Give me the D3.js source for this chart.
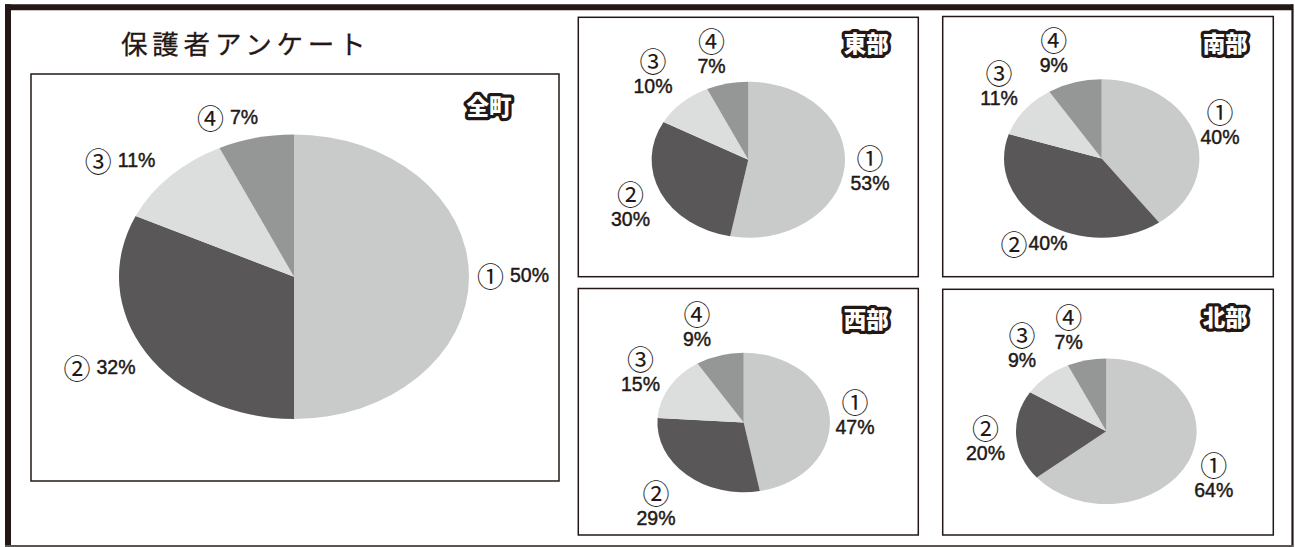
<!DOCTYPE html>
<html lang="ja">
<head>
<meta charset="utf-8">
<script src="https://cdn.jsdelivr.net/npm/d3@7"></script>
<style>
  html, body { margin: 0; padding: 0; background: #ffffff; }
  svg { display: block; }
</style>
</head>
<body>
<svg id="chart" width="1295" height="547"></svg>
<script>
// ---- data ----
const titleText = "保護者アンケート";
const categories = ["①", "②", "③", "④"];
const regionNames = ["全町", "東部", "南部", "西部", "北部"];
const valuesZencho = [50, 32, 11, 7];
const valuesTobu   = [53, 30, 10, 7];
const valuesNanbu  = [40, 40, 11, 9];
const valuesSeibu  = [47, 29, 15, 9];
const valuesHokubu = [64, 20, 9, 7];

// ---- styling ----
const ink = "#231815";
const sliceColors = ["#c9caca", "#595757", "#dcdddd", "#959796"];
const numFont = "'Liberation Sans', Arial, sans-serif";
const jpFont = "'Noto Sans CJK JP', 'Noto Sans', sans-serif";
const circleSize = 27;   // circled numbers render small in this face, so upsize them
const pctSize = 19.5;

// ---- layout: panel frames, pie geometry, label placement ----
// label: "inline" puts the circled number and percent on one line,
// "stack" puts them on two lines; nudge fine-tunes each label block.
const panels = [
  { name: regionNames[0], values: valuesZencho,
    box: [31, 74, 528, 407], pie: [294, 276.7, 175, 142.3], tag: [70, 31],
    label: ["inline", "inline", "inline", "inline"],
    nudge: [[0, -1.7], [-9.6, 5.7], [-19, -5.5], [-18.7, -5.7]] },
  { name: regionNames[1], values: valuesTobu,
    box: [578.3, 17.3, 340, 259.4], pie: [748.3, 159.7, 96.7, 78], tag: [52, 25],
    label: ["stack", "stack", "stack", "stack"],
    nudge: [[1.5, 0], [-8.6, 0.7], [-12.7, -9.7], [-10.5, -2.8]] },
  { name: regionNames[2], values: valuesNanbu,
    box: [942.7, 16.5, 330.6, 260.2], pie: [1101.7, 158.5, 97.7, 79.2], tag: [48, 25.5],
    label: ["stack", "inlineTight", "stack", "stack"],
    nudge: [[2.6, -1.2], [13.2, 8.3], [-6.5, -7.6], [-14, -3.4]] },
  { name: regionNames[3], values: valuesSeibu,
    box: [578.3, 288.5, 340, 246.5], pie: [743.7, 422.5, 86.3, 69.8], tag: [52, 29.5],
    label: ["stack", "stack", "stack", "stack"],
    nudge: [[1.5, 0], [-14.8, 8], [-8.3, -1.9], [-15.9, -2.3]] },
  { name: regionNames[4], values: valuesHokubu,
    box: [942.7, 289.3, 330.6, 245.7], pie: [1106.3, 431.2, 90.3, 72.8], tag: [48, 26.7],
    label: ["stack", "stack", "stack", "stack"],
    nudge: [[4, 1.7], [-6.7, 1.6], [-8.7, -8.6], [-12.7, -3.6]] }
];

const svg = d3.select("#chart");

// outer frame: heavy top/left rules, light right/bottom rules
const frame = svg.append("g");
frame.append("line").attr("x1", 5).attr("x2", 1293).attr("y1", 7.2).attr("y2", 7.2)
  .attr("stroke", ink).attr("stroke-width", 6);
frame.append("line").attr("x1", 8).attr("x2", 8).attr("y1", 4.2).attr("y2", 547)
  .attr("stroke", ink).attr("stroke-width", 6);
frame.append("line").attr("x1", 1292.5).attr("x2", 1292.5).attr("y1", 4.2).attr("y2", 547)
  .attr("stroke", ink).attr("stroke-width", 2.2);
frame.append("line").attr("x1", 5).attr("x2", 1293).attr("y1", 546).attr("y2", 546)
  .attr("stroke", "#5a5656").attr("stroke-width", 2);

// title
svg.append("text")
  .attr("x", 121).attr("y", 42)
  .attr("dominant-baseline", "central")
  .attr("font-family", jpFont)
  .attr("font-size", 26.5)
  .attr("letter-spacing", "4.8px")
  .attr("fill", ink)
  .attr("stroke", ink).attr("stroke-width", 0.3)
  .text(titleText);

const pie = d3.pie().sort(null).value(d => d);

function pctSpan(sel) {
  return sel.attr("font-family", numFont).attr("font-size", pctSize)
    .attr("stroke", ink).attr("stroke-width", 0.45);
}

panels.forEach(p => {
  const [bx, by, bw, bh] = p.box;
  const [cx, cy, rx, ry] = p.pie;
  const g = svg.append("g");

  g.append("rect")
    .attr("x", bx).attr("y", by).attr("width", bw).attr("height", bh)
    .attr("fill", "#ffffff").attr("stroke", ink).attr("stroke-width", 1.5);

  // elliptical pie: circular arcs squashed vertically
  const arc = d3.arc().innerRadius(0).outerRadius(rx);
  const arcs = pie(p.values);
  g.append("g")
    .attr("transform", `translate(${cx},${cy}) scale(1,${ry / rx})`)
    .selectAll("path")
    .data(arcs)
    .join("path")
    .attr("d", arc)
    .attr("fill", (d, i) => sliceColors[i]);

  // slice labels, placed just outside the rim at each slice's mid angle
  arcs.forEach((d, i) => {
    const mid = (d.startAngle + d.endAngle) / 2;
    const s = Math.sin(mid), c = Math.cos(mid);
    const mode = p.label[i];
    const [nx, ny] = p.nudge[i];
    const pct = d.data + "%";
    if (mode === "stack") {
      const w = 40, h = 50, pad = 4;
      const lx = cx + (rx + pad + w / 2) * s + nx;
      const ly = cy - (ry + pad + h / 2) * c + ny;
      const t = g.append("text")
        .attr("text-anchor", "middle").attr("dominant-baseline", "central")
        .attr("fill", ink);
      t.append("tspan")
        .attr("x", lx).attr("y", ly - 12.5)
        .attr("font-family", jpFont).attr("font-size", circleSize)
        .text(categories[i]);
      t.append("tspan")
        .attr("x", lx).attr("y", ly + 13.5)
        .call(pctSpan)
        .text(pct);
    } else {
      const tight = mode === "inlineTight";
      const w = tight ? 72 : 80, h = 22, pad = 4;
      const lx = cx + (rx + pad + w / 2) * s + nx;
      const ly = cy - (ry + pad + h / 2) * c + ny;
      const t = g.append("text")
        .attr("x", lx).attr("y", ly)
        .attr("text-anchor", "middle").attr("dominant-baseline", "central")
        .attr("fill", ink);
      t.append("tspan")
        .attr("font-family", jpFont).attr("font-size", circleSize)
        .text(categories[i]);
      t.append("tspan")
        .attr("dx", tight ? 1 : 6)
        .call(pctSpan)
        .text(pct);
    }
  });

  // region tag: white lettering with a heavy dark outline
  g.append("text")
    .attr("x", bx + bw - p.tag[0]).attr("y", by + p.tag[1])
    .attr("text-anchor", "middle").attr("dominant-baseline", "central")
    .attr("font-family", jpFont).attr("font-weight", 900).attr("font-size", 22.5)
    .attr("fill", "#ffffff").attr("stroke", ink).attr("stroke-width", 6.5)
    .attr("stroke-linejoin", "round").attr("paint-order", "stroke")
    .text(p.name);
});
</script>
</body>
</html>
